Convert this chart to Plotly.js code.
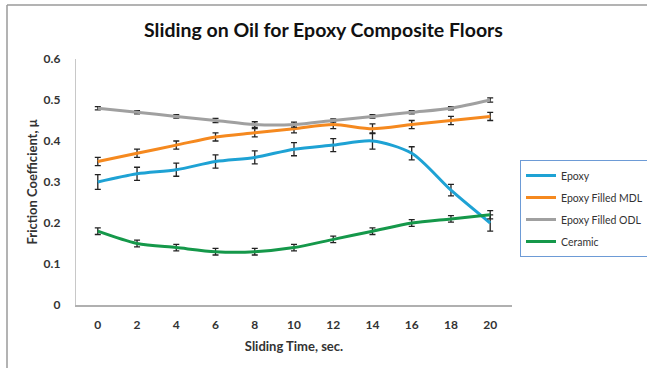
<!DOCTYPE html>
<html>
<head>
<meta charset="utf-8">
<script src="https://cdn.plot.ly/plotly-3.0.1.min.js"></script>
<style>
html,body{margin:0;padding:0;background:#fff;}
#chart{width:647px;height:368px;}
</style>
</head>
<body>
<div id="chart"></div>
<script>
const times = ["0","2","4","6","8","10","12","14","16","18","20"];
const seriesNames = ["Epoxy","Epoxy Filled MDL","Epoxy Filled ODL","Ceramic"];
const epoxy    = [0.30,0.32,0.33,0.35,0.36,0.38,0.39,0.40,0.37,0.28,0.20];
const epoxyErr = [0.018,0.016,0.016,0.016,0.016,0.016,0.016,0.02,0.016,0.014,0.02];
const mdl      = [0.35,0.37,0.39,0.41,0.42,0.43,0.44,0.43,0.44,0.45,0.46];
const mdlErr   = [0.01,0.01,0.01,0.01,0.01,0.01,0.01,0.012,0.01,0.01,0.01];
const odl      = [0.48,0.47,0.46,0.45,0.44,0.44,0.45,0.46,0.47,0.48,0.50];
const odlErr   = [0.004,0.004,0.004,0.005,0.007,0.006,0.004,0.004,0.004,0.004,0.005];
const ceramic  = [0.18,0.15,0.14,0.13,0.13,0.14,0.16,0.18,0.20,0.21,0.22];
const ceramicErr = [0.008,0.008,0.008,0.008,0.008,0.008,0.008,0.008,0.008,0.008,0.01];
const yTicks = [0,0.1,0.2,0.3,0.4,0.5,0.6];

const colors = ["#1ea2d4","#f5891f","#a0a0a0","#15984a"];
const values = [epoxy, mdl, odl, ceramic];
const errs = [epoxyErr, mdlErr, odlErr, ceramicErr];

const traces = values.map((v,i)=>({
  type:'scatter', mode:'lines', name:seriesNames[i], legendgroup:'g'+i,
  x:times, y:v,
  line:{color:colors[i], width:3, shape:'spline', smoothing:0.8},
  error_y:{type:'data', array:errs[i], visible:true, color:'#222', thickness:1.3, width:3}
}));

const font = "Lato, 'Open Sans', sans-serif";
const layout = {
  width:647, height:368,
  margin:{l:76, r:135, t:59, b:63},
  paper_bgcolor:'#fff', plot_bgcolor:'#fff',
  showlegend:true,
  font:{family:font, color:'#404040'},
  title:{text:'<b>Sliding on Oil for Epoxy Composite Floors</b>', x:0.5, xref:'container', y:0.918, yanchor:'middle', font:{family:font, size:19.5, color:'#111'}},
  xaxis:{
    type:'category', showgrid:false, zeroline:false,
    showline:true, linecolor:'#b0b0b0', linewidth:1.5,
    ticks:'outside', ticklen:8, tickcolor:'rgba(0,0,0,0)',
    tickfont:{family:font, size:12, color:'#333', weight:'bold'},
    title:{text:'<b>Sliding Time, sec.</b>', font:{family:font, size:13, color:'#333'}, standoff:11}
  },
  yaxis:{
    range:[0,0.6], tickvals:yTicks, ticktext:yTicks.map(v=>String(v)),
    showgrid:false, zeroline:false,
    showline:true, linecolor:'#c8c8c8', linewidth:1.2,
    ticks:'outside', ticklen:12, tickcolor:'rgba(0,0,0,0)',
    tickfont:{family:font, size:12, color:'#333', weight:'bold'},
    title:{text:'<b>Friction Coefficient, μ</b>', font:{family:font, size:13, color:'#333'}, standoff:3}
  },
  legend:{
    x:520/647, xref:'container', y:1-160/368, yref:'container', xanchor:'left', yanchor:'top',
    bordercolor:'#6d9bd6', borderwidth:1, bgcolor:'#fff',
    font:{family:font, size:10.5, color:'#333'},
    tracegroupgap:3, itemwidth:30
  },
  shapes:[
    {type:'line', xref:'paper', yref:'paper', x0:(7-76)/436, x1:(647-76)/436, y0:(368-63-5)/246, y1:(368-63-5)/246, line:{color:'#9a9a9a', width:1.5}},
    {type:'line', xref:'paper', yref:'paper', x0:(7-76)/436, x1:(7-76)/436, y0:(368-63-5)/246, y1:-63/246, line:{color:'#9a9a9a', width:1.5}}
  ]
};
Plotly.newPlot('chart', traces, layout, {displayModeBar:false, staticPlot:true});
</script>
</body>
</html>
